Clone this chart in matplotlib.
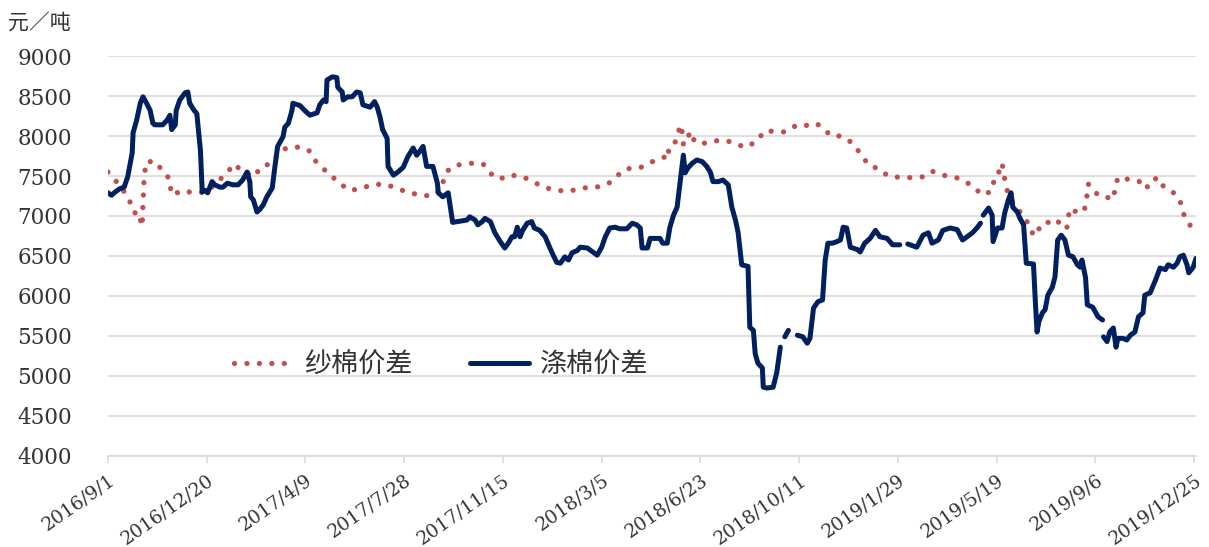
#!/usr/bin/env python3
"""Yarn-cotton and polyester-cotton price spread chart."""

from __future__ import annotations

import matplotlib

matplotlib.use("Agg")
import matplotlib.pyplot as plt
import numpy as np
import pandas as pd

YARN_LABEL = "纱棉价差"
POLY_LABEL = "涤棉价差"
UNIT_LABEL = "元／吨"

TICK_START = "2016-09-01"
TICK_STEP_DAYS = 110
TICK_COUNT = 12
Y_TICKS = list(range(4000, 9001, 500))

YARN_DATES = [
    "2016-09-01", "2016-09-09", "2016-09-22", "2016-09-27", "2016-09-30", "2016-10-02",
    "2016-10-06", "2016-10-09", "2016-10-10", "2016-10-11", "2016-10-12", "2016-10-14",
    "2016-10-24", "2016-11-01", "2016-11-09", "2016-11-10", "2016-11-12", "2016-11-17",
    "2016-11-24", "2016-12-04", "2016-12-20", "2017-01-03", "2017-01-12", "2017-01-19",
    "2017-01-29", "2017-02-11", "2017-02-18", "2017-03-02", "2017-03-12", "2017-03-21",
    "2017-04-04", "2017-04-14", "2017-04-20", "2017-04-29", "2017-05-09", "2017-05-17",
    "2017-05-28", "2017-06-09", "2017-06-22", "2017-07-06", "2017-07-19", "2017-07-31",
    "2017-08-15", "2017-08-28", "2017-09-08", "2017-09-10", "2017-09-16", "2017-09-27",
    "2017-10-12", "2017-10-24", "2017-10-31", "2017-11-11", "2017-11-22", "2017-12-05",
    "2017-12-17", "2017-12-30", "2018-01-14", "2018-01-28", "2018-02-11", "2018-02-27",
    "2018-03-12", "2018-03-22", "2018-04-01", "2018-04-16", "2018-04-28", "2018-05-02",
    "2018-05-15", "2018-05-17", "2018-05-19", "2018-05-24", "2018-05-29", "2018-05-31",
    "2018-06-03", "2018-06-04", "2018-06-08", "2018-06-09", "2018-06-14", "2018-06-16",
    "2018-06-28", "2018-07-08", "2018-07-23", "2018-08-03", "2018-08-14", "2018-08-26",
    "2018-09-02", "2018-09-15", "2018-09-25", "2018-10-09", "2018-10-18", "2018-10-30",
    "2018-11-06", "2018-11-16", "2018-11-26", "2018-12-05", "2018-12-13", "2018-12-20",
    "2018-12-28", "2019-01-08", "2019-01-18", "2019-02-02", "2019-02-12", "2019-02-26",
    "2019-03-08", "2019-03-20", "2019-04-04", "2019-04-17", "2019-04-27", "2019-05-06",
    "2019-05-15", "2019-05-16", "2019-05-21", "2019-05-24", "2019-05-27", "2019-05-28",
    "2019-05-31", "2019-06-03", "2019-06-11", "2019-06-18", "2019-06-25", "2019-06-29",
    "2019-07-04", "2019-07-10", "2019-07-16", "2019-07-24", "2019-08-01", "2019-08-05",
    "2019-08-07", "2019-08-08", "2019-08-13", "2019-08-24", "2019-08-27", "2019-08-28",
    "2019-08-29", "2019-09-03", "2019-09-12", "2019-09-17", "2019-09-26", "2019-09-28",
    "2019-10-01", "2019-10-12", "2019-10-24", "2019-11-02", "2019-11-05", "2019-11-15",
    "2019-11-20", "2019-11-29", "2019-12-07", "2019-12-12", "2019-12-14", "2019-12-22",
]
YARN_VALUES = [
    7550, 7450, 7260, 7140, 7110, 6990,
    7000, 6870, 7150, 7410, 7550, 7680,
    7680, 7560, 7460, 7320, 7260, 7290,
    7320, 7290, 7300, 7450, 7540, 7650,
    7560, 7490, 7610, 7660, 7810, 7860,
    7860, 7810, 7690, 7590, 7490, 7410,
    7320, 7340, 7390, 7400, 7350, 7300,
    7260, 7250, 7340, 7460, 7590, 7640,
    7660, 7650, 7540, 7460, 7510, 7500,
    7440, 7360, 7320, 7310, 7350, 7360,
    7400, 7500, 7590, 7600, 7660, 7690,
    7740, 7710, 7850, 7880, 8000, 8140,
    8040, 7900, 7910, 8000, 8050, 7930,
    7910, 7940, 7940, 7890, 7860, 7950,
    8060, 8060, 8050, 8140, 8130, 8160,
    8100, 8000, 8000, 7950, 7860, 7750,
    7630, 7590, 7500, 7480, 7480, 7490,
    7560, 7510, 7480, 7410, 7320, 7260,
    7340, 7480, 7530, 7660, 7590, 7440,
    7310, 7210, 7100, 6990, 6880, 6750,
    6820, 6920, 6920, 6960, 6860, 6840,
    6980, 7090, 7060, 7050, 7180, 7300,
    7400, 7320, 7240, 7240, 7210, 7350,
    7480, 7460, 7440, 7340, 7430, 7480,
    7380, 7320, 7240, 7110, 6990, 6860,
]

POLY_DATES = [
    "2016-09-01", "2016-09-05", "2016-09-09", "2016-09-14", "2016-09-19", "2016-09-23",
    "2016-09-28", "2016-09-29", "2016-10-03", "2016-10-07", "2016-10-10", "2016-10-14",
    "2016-10-18", "2016-10-21", "2016-10-23", "2016-11-01", "2016-11-06", "2016-11-09",
    "2016-11-11", "2016-11-15", "2016-11-16", "2016-11-20", "2016-11-26", "2016-11-29",
    "2016-12-01", "2016-12-06", "2016-12-09", "2016-12-13", "2016-12-15", "2016-12-18",
    "2016-12-21", "2016-12-26", "2016-12-29", "2017-01-04", "2017-01-07", "2017-01-12",
    "2017-01-18", "2017-01-24", "2017-01-29", "2017-02-03", "2017-02-06", "2017-02-07",
    "2017-02-10", "2017-02-14", "2017-02-17", "2017-02-21", "2017-02-25", "2017-03-03",
    "2017-03-06", "2017-03-09", "2017-03-15", "2017-03-17", "2017-03-21", "2017-03-25",
    "2017-03-26", "2017-04-03", "2017-04-08", "2017-04-14", "2017-04-22", "2017-04-25",
    "2017-04-29", "2017-05-02", "2017-05-03", "2017-05-09", "2017-05-14", "2017-05-15",
    "2017-05-20", "2017-05-21", "2017-05-26", "2017-05-31", "2017-06-05", "2017-06-09",
    "2017-06-12", "2017-06-20", "2017-06-25", "2017-06-28", "2017-07-01", "2017-07-04",
    "2017-07-09", "2017-07-10", "2017-07-16", "2017-07-21", "2017-07-27", "2017-08-01",
    "2017-08-07", "2017-08-11", "2017-08-15", "2017-08-18", "2017-08-22", "2017-08-29",
    "2017-09-03", "2017-09-04", "2017-09-09", "2017-09-15", "2017-09-19", "2017-09-20",
    "2017-10-06", "2017-10-09", "2017-10-15", "2017-10-18", "2017-10-23", "2017-10-26",
    "2017-11-01", "2017-11-06", "2017-11-12", "2017-11-17", "2017-11-21", "2017-11-25",
    "2017-11-28", "2017-12-01", "2017-12-04", "2017-12-07", "2017-12-12", "2017-12-17",
    "2017-12-20", "2017-12-26", "2018-01-01", "2018-01-06", "2018-01-10", "2018-01-14",
    "2018-01-18", "2018-01-23", "2018-01-27", "2018-01-31", "2018-02-06", "2018-02-09",
    "2018-02-17", "2018-02-23", "2018-02-28", "2018-03-05", "2018-03-09", "2018-03-14",
    "2018-03-20", "2018-03-25", "2018-04-02", "2018-04-08", "2018-04-13", "2018-04-17",
    "2018-04-19", "2018-04-25", "2018-04-28", "2018-05-06", "2018-05-09", "2018-05-12",
    "2018-05-17", "2018-05-20", "2018-05-24", "2018-05-28", "2018-05-31", "2018-06-04",
    "2018-06-06", "2018-06-09", "2018-06-14", "2018-06-19", "2018-06-25", "2018-06-30",
    "2018-07-04", "2018-07-07", "2018-07-13", "2018-07-18", "2018-07-24", "2018-07-28",
    "2018-08-01", "2018-08-04", "2018-08-08", "2018-08-15", "2018-08-17", "2018-08-21",
    "2018-08-23", "2018-08-26", "2018-08-31", "2018-09-01", "2018-09-05", "2018-09-12",
    "2018-09-16", "2018-09-20", "2018-09-22", "2018-09-25", "2018-09-29", "2018-10-04",
    "2018-10-09", "2018-10-15", "2018-10-20", "2018-10-23", "2018-10-27", "2018-11-01",
    "2018-11-06", "2018-11-09", "2018-11-12", "2018-11-17", "2018-11-22", "2018-11-26",
    "2018-11-29", "2018-12-03", "2018-12-07", "2018-12-15", "2018-12-18", "2018-12-23",
    "2018-12-29", "2019-01-04", "2019-01-09", "2019-01-17", "2019-01-23", "2019-01-31",
    "2019-02-05", "2019-02-09", "2019-02-19", "2019-02-26", "2019-03-04", "2019-03-08",
    "2019-03-15", "2019-03-20", "2019-03-28", "2019-04-05", "2019-04-11", "2019-04-16",
    "2019-04-22", "2019-04-27", "2019-05-01", "2019-05-02", "2019-05-04", "2019-05-10",
    "2019-05-14", "2019-05-15", "2019-05-20", "2019-05-25", "2019-05-28", "2019-06-01",
    "2019-06-04", "2019-06-06", "2019-06-11", "2019-06-14", "2019-06-18", "2019-06-21",
    "2019-06-29", "2019-07-01", "2019-07-03", "2019-07-05", "2019-07-09", "2019-07-12",
    "2019-07-15", "2019-07-20", "2019-07-23", "2019-07-26", "2019-07-30", "2019-08-03",
    "2019-08-07", "2019-08-12", "2019-08-17", "2019-08-20", "2019-08-22", "2019-08-26",
    "2019-08-28", "2019-09-03", "2019-09-09", "2019-09-14", "2019-09-14", "2019-09-15",
    "2019-09-19", "2019-09-22", "2019-09-26", "2019-09-29", "2019-10-01", "2019-10-07",
    "2019-10-11", "2019-10-15", "2019-10-20", "2019-10-24", "2019-10-29", "2019-10-31",
    "2019-11-06", "2019-11-12", "2019-11-17", "2019-11-23", "2019-11-26", "2019-12-02",
    "2019-12-06", "2019-12-09", "2019-12-13", "2019-12-17", "2019-12-19", "2019-12-24",
    "2019-12-27",
]
NAN = np.nan
POLY_VALUES = [
    7290, 7260, 7300, 7340, 7360, 7490,
    7790, 8040, 8200, 8410, 8490, 8410,
    8320, 8160, 8140, 8140, 8200, 8260,
    8080, 8140, 8320, 8450, 8540, 8550,
    8410, 8320, 8280, 7820, 7300, 7320,
    7290, 7430, 7390, 7360, 7360, 7410,
    7390, 7390, 7450, 7550, 7430, 7240,
    7200, 7050, 7080, 7140, 7240, 7350,
    7620, 7870, 7990, 8110, 8160, 8320,
    8410, 8380, 8320, 8260, 8290, 8390,
    8450, 8430, 8700, 8740, 8730, 8610,
    8550, 8450, 8490, 8490, 8550, 8540,
    8390, 8360, 8430, 8360, 8240, 8080,
    7970, 7620, 7510, 7550, 7610, 7740,
    7850, 7760, 7820, 7870, 7620, 7620,
    7410, 7290, 7240, 7290, 6990, 6920,
    6950, 6990, 6950, 6890, 6930, 6970,
    6930, 6790, 6680, 6600, 6660, 6740,
    6740, 6860, 6740, 6820, 6910, 6930,
    6850, 6820, 6740, 6610, 6510, 6420,
    6410, 6490, 6450, 6540, 6570, 6610,
    6600, 6550, 6510, 6610, 6740, 6850,
    6860, 6840, 6840, 6910, 6890, 6850,
    6600, 6600, 6720, 6720, 6720, 6660,
    6660, 6860, 7010, 7110, 7390, 7760,
    7540, 7600, 7660, 7700, 7680, 7620,
    7550, 7430, 7430, 7450, 7390, 7110,
    6950, 6790, 6390, 6370, 5610, 5570,
    5280, 5160, 5100, 4860, 4850, 4860,
    5040, 5360, NAN, 5490, 5570, NAN,
    5510, 5490, 5410, 5470, 5850, 5930,
    5950, 6450, 6660, 6660, 6680, 6700,
    6860, 6850, 6610, 6580, 6550, 6660,
    6720, 6820, 6740, 6720, 6640, 6640,
    NAN, 6650, 6610, 6760, 6790, 6660,
    6700, 6820, 6850, 6830, 6700, 6740,
    6790, 6850, 6910, NAN, 7010, 7100,
    7010, 6680, 6850, 6850, 7040, 7200,
    7290, 7110, 7050, 6970, 6890, 6410,
    6400, 5950, 5550, 5680, 5790, 5830,
    6010, 6110, 6240, 6700, 6760, 6700,
    6510, 6490, 6390, 6360, 6450, 6230,
    5890, 5860, 5740, 5700, NAN, 5490,
    5430, 5550, 5600, 5360, 5470, 5470,
    5450, 5510, 5550, 5740, 5790, 6010,
    6040, 6200, 6350, 6330, 6390, 6360,
    6410, 6490, 6510, 6390, 6290, 6360,
    6470,
]

YARN_COLOR = "#c0504d"
POLY_COLOR = "#002060"
GRID_COLOR = "#d9d9d9"
TEXT_COLOR = "#333333"
CJK_FONT = ["Noto Sans CJK SC", "DejaVu Sans"]
NUM_FONT = ["DejaVu Serif"]


def plot_chart(png_path: str) -> None:
    fig = plt.figure(figsize=(12.09, 5.47), dpi=100)
    ax = fig.add_axes([0.0893, 0.1664, 0.8999, 0.7312])

    yarn_x = pd.to_datetime(YARN_DATES)
    poly_x = pd.to_datetime(POLY_DATES)

    ax.plot(
        yarn_x, YARN_VALUES,
        color=YARN_COLOR, linewidth=3.8,
        linestyle=(0, (0.01, 2.35)), dash_capstyle="round",
        label=YARN_LABEL, zorder=3,
    )
    ax.plot(
        poly_x, POLY_VALUES,
        color=POLY_COLOR, linewidth=3.6,
        solid_capstyle="round", solid_joinstyle="round",
        label=POLY_LABEL, zorder=4,
    )

    start = pd.Timestamp(TICK_START)
    ticks = [start + pd.Timedelta(days=TICK_STEP_DAYS * i) for i in range(TICK_COUNT)]
    ax.set_xlim(start, poly_x[-1])
    ax.set_xticks(ticks)
    ax.set_xticklabels([f"{t.year}/{t.month}/{t.day}" for t in ticks])
    ax.set_ylim(4000, 9000)
    ax.set_yticks(Y_TICKS)

    ax.grid(axis="y", color=GRID_COLOR, linewidth=1.2)
    ax.set_axisbelow(True)
    for side in ("top", "right", "left"):
        ax.spines[side].set_visible(False)
    ax.spines["bottom"].set_color(GRID_COLOR)
    ax.spines["bottom"].set_linewidth(1.2)
    ax.spines["bottom"].set_zorder(1)

    ax.tick_params(axis="y", length=0, pad=26, labelsize=15.5, labelcolor=TEXT_COLOR)
    ax.tick_params(axis="x", length=5, width=1.2, color=GRID_COLOR, pad=6,
                   labelsize=13.5, labelcolor=TEXT_COLOR)
    for label in ax.get_yticklabels() + ax.get_xticklabels():
        label.set_family(NUM_FONT)
    for label in ax.get_xticklabels():
        label.set_rotation(35)
        label.set_ha("right")
        label.set_va("top")
        label.set_rotation_mode("anchor")

    leg = ax.legend(
        loc="center left", bbox_to_anchor=(0.106, 0.228), ncol=2, frameon=False,
        prop={"family": CJK_FONT, "size": 19.5}, handlelength=2.2, handletextpad=0.4,
        columnspacing=2.1, borderaxespad=0,
    )
    for text in leg.get_texts():
        text.set_color(TEXT_COLOR)

    fig.text(8 / 1209, 1 - 12 / 547, UNIT_LABEL, ha="left", va="top",
             fontsize=15, family=CJK_FONT, color=TEXT_COLOR)

    fig.savefig(png_path, dpi=100)
    plt.close(fig)


def main() -> int:
    assert len(YARN_DATES) == len(YARN_VALUES)
    assert len(POLY_DATES) == len(POLY_VALUES)
    plot_chart("out.png")
    return 0


if __name__ == "__main__":
    raise SystemExit(main())
